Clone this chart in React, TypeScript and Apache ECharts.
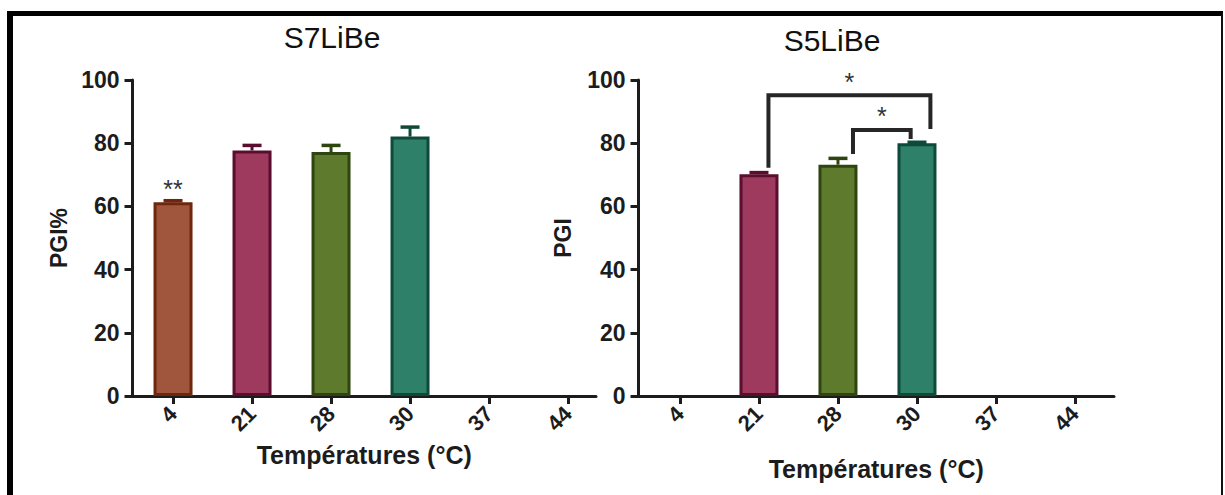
import React, { useEffect, useRef } from "react";
import * as echarts from "echarts";

// ---------- data ----------
const categories = ["4", "21", "28", "30", "37", "44"];
const categoryPositions = [0, 1, 2, 3, 4, 5];
const yTicks = [0, 20, 40, 60, 80, 100];

const s7Values: (number | null)[] = [61.3, 77.7, 77.2, 82.1, null, null];
const s7Errors: (number | null)[] = [0.5, 1.6, 2.1, 3.0, null, null];
const s7Stars = ["**", "", "", "", "", ""];

const s5Values: (number | null)[] = [null, 70.2, 73.2, 80.0, null, null];
const s5Errors: (number | null)[] = [null, 0.5, 2.0, 0.3, null, null];

// significance brackets on S5LiBe: [leftX, rightX, topY, leftLegEndY, rightLegEndY]
const bracketLeftX = [1.12, 2.19];
const bracketRightX = [3.17, 2.92];
const bracketTopY = [95.2, 84.2];
const bracketLeftEndY = [72.2, 76.6];
const bracketRightEndY = [84.5, 81.3];
const bracketLabels = ["*", "*"];

const fillColors = ["#A0563C", "#9E3A5E", "#5E7A2D", "#2E8068", "#777777", "#777777"];
const edgeColors = ["#6E260D", "#5A0D2E", "#2E4510", "#0E4A3A", "#333333", "#333333"];

// ---------- styling ----------
const FONT = "'Liberation Sans', Arial, Helvetica, sans-serif";
const INK = "#1c1c1c";

function barSeries(axis: number, values: (number | null)[]) {
  const data = values
    .map((v, i) =>
      v == null
        ? null
        : {
            value: [categoryPositions[i], v],
            itemStyle: { color: fillColors[i], borderColor: edgeColors[i], borderWidth: 3 },
          }
    )
    .filter(Boolean);
  return {
    type: "bar",
    xAxisIndex: axis,
    yAxisIndex: axis,
    barWidth: 39,
    data,
    z: 2,
  };
}

function errorSeries(axis: number, values: (number | null)[], errors: (number | null)[], stars?: string[]) {
  const data = values
    .map((v, i) => (v == null ? null : [categoryPositions[i], v, errors[i] ?? 0, i]))
    .filter(Boolean);
  return {
    type: "custom",
    xAxisIndex: axis,
    yAxisIndex: axis,
    data,
    z: 4,
    renderItem: (_p: any, api: any) => {
      const x = api.value(0);
      const v = api.value(1);
      const e = api.value(2);
      const idx = api.value(3);
      const base = api.coord([x, v]);
      const top = api.coord([x, v + e]);
      const col = edgeColors[idx];
      const children: any[] = [
        {
          type: "line",
          shape: { x1: top[0], y1: base[1], x2: top[0], y2: top[1] },
          style: { stroke: col, lineWidth: 3 },
        },
        {
          type: "line",
          shape: { x1: top[0] - 9.5, y1: top[1], x2: top[0] + 9.5, y2: top[1] },
          style: { stroke: col, lineWidth: 3.5 },
        },
      ];
      const star = stars ? stars[idx] : "";
      if (star) {
        children.push({
          type: "text",
          x: top[0],
          y: top[1] + 1,
          style: {
            text: star,
            align: "center",
            verticalAlign: "bottom",
            font: `normal 25px ${FONT}`,
            fill: "#333333",
          },
        });
      }
      return { type: "group", children };
    },
  };
}

function bracketSeries(axis: number) {
  const data = bracketLeftX.map((x1, i) => [
    x1,
    bracketRightX[i],
    bracketTopY[i],
    bracketLeftEndY[i],
    bracketRightEndY[i],
    i,
  ]);
  return {
    type: "custom",
    xAxisIndex: axis,
    yAxisIndex: axis,
    data,
    z: 5,
    renderItem: (_p: any, api: any) => {
      const a = api.coord([api.value(0), api.value(3)]);
      const b = api.coord([api.value(0), api.value(2)]);
      const c = api.coord([api.value(1), api.value(2)]);
      const d = api.coord([api.value(1), api.value(4)]);
      const i = api.value(5);
      return {
        type: "group",
        children: [
          {
            type: "polyline",
            shape: { points: [a, b, c, d] },
            style: { stroke: "#262626", lineWidth: 4, fill: null, lineJoin: "miter" },
          },
          {
            type: "text",
            x: (b[0] + c[0]) / 2,
            y: b[1] - 1,
            style: {
              text: bracketLabels[i],
              align: "center",
              verticalAlign: "bottom",
              font: `normal 25px ${FONT}`,
              fill: "#333333",
            },
          },
        ],
      };
    },
  };
}

function xAxisFor(grid: number, min: number, max: number, nameGap: number) {
  return {
    type: "value",
    gridIndex: grid,
    min,
    max,
    name: "Températures (°C)",
    nameLocation: "middle",
    nameGap,
    nameTextStyle: { fontFamily: FONT, fontWeight: "bold", fontSize: 25, color: INK },
    axisLine: { show: true, onZero: false, lineStyle: { color: INK, width: 3 } },
    axisTick: {
      show: true,
      customValues: categoryPositions,
      length: 8,
      inside: false,
      lineStyle: { color: INK, width: 3 },
    },
    axisLabel: {
      customValues: categoryPositions,
      formatter: (v: number) => categories[Math.round(v)] ?? "",
      rotate: 45,
      margin: 14,
      fontFamily: FONT,
      fontWeight: "bold",
      fontSize: 22,
      color: INK,
    },
    splitLine: { show: false },
  };
}

function yAxisFor(grid: number, name: string, nameGap: number) {
  return {
    type: "value",
    gridIndex: grid,
    min: yTicks[0],
    max: yTicks[yTicks.length - 1],
    interval: 20,
    name,
    nameLocation: "middle",
    nameGap,
    nameTextStyle: { fontFamily: FONT, fontWeight: "bold", fontSize: 23, color: INK },
    axisLine: { show: true, onZero: false, lineStyle: { color: INK, width: 3 } },
    axisTick: { show: true, length: 8, inside: false, lineStyle: { color: INK, width: 3 } },
    axisLabel: {
      margin: 13,
      fontFamily: FONT,
      fontWeight: "bold",
      fontSize: 23,
      color: INK,
    },
    splitLine: { show: false },
  };
}

export default function App() {
  const ref = useRef<HTMLDivElement>(null);

  useEffect(() => {
    if (!ref.current) return;
    const chart = echarts.init(ref.current, null, { renderer: "svg" });
    chart.setOption({
      animation: false,
      backgroundColor: "#ffffff",
      textStyle: { fontFamily: FONT },
      graphic: [
        {
          type: "text",
          x: 332,
          y: 37,
          style: {
            text: "S7LiBe",
            align: "center",
            verticalAlign: "middle",
            font: `normal 30px ${FONT}`,
            fill: "#111111",
          },
        },
        {
          type: "text",
          x: 832,
          y: 40,
          style: {
            text: "S5LiBe",
            align: "center",
            verticalAlign: "middle",
            font: `normal 30px ${FONT}`,
            fill: "#111111",
          },
        },
      ],
      grid: [
        { left: 132.5, top: 80, width: 463.5, height: 316, containLabel: false, outerBoundsMode: "none" },
        { left: 638.5, top: 80, width: 475.5, height: 316, containLabel: false, outerBoundsMode: "none" },
      ],
      xAxis: [xAxisFor(0, -0.513, 5.354, 34), xAxisFor(1, -0.525, 5.494, 60)],
      yAxis: [yAxisFor(0, "PGI%", 62), yAxisFor(1, "PGI", 64)],
      series: [
        barSeries(0, s7Values),
        errorSeries(0, s7Values, s7Errors, s7Stars),
        barSeries(1, s5Values),
        errorSeries(1, s5Values, s5Errors),
        bracketSeries(1),
      ],
    });
    return () => chart.dispose();
  }, []);

  return (
    <div
      style={{
        position: "fixed",
        left: 0,
        top: 0,
        width: 1225,
        height: 495,
        overflow: "hidden",
        background: "#ffffff",
      }}
    >
      <div ref={ref} style={{ position: "absolute", left: 0, top: 0, width: 1225, height: 495 }} />
      <div
        style={{
          position: "absolute",
          left: 7,
          top: 11,
          width: 1208,
          height: 700,
          borderTop: "5px solid #000",
          borderLeft: "6px solid #000",
          borderRight: "2px solid #111",
          pointerEvents: "none",
        }}
      />
    </div>
  );
}
